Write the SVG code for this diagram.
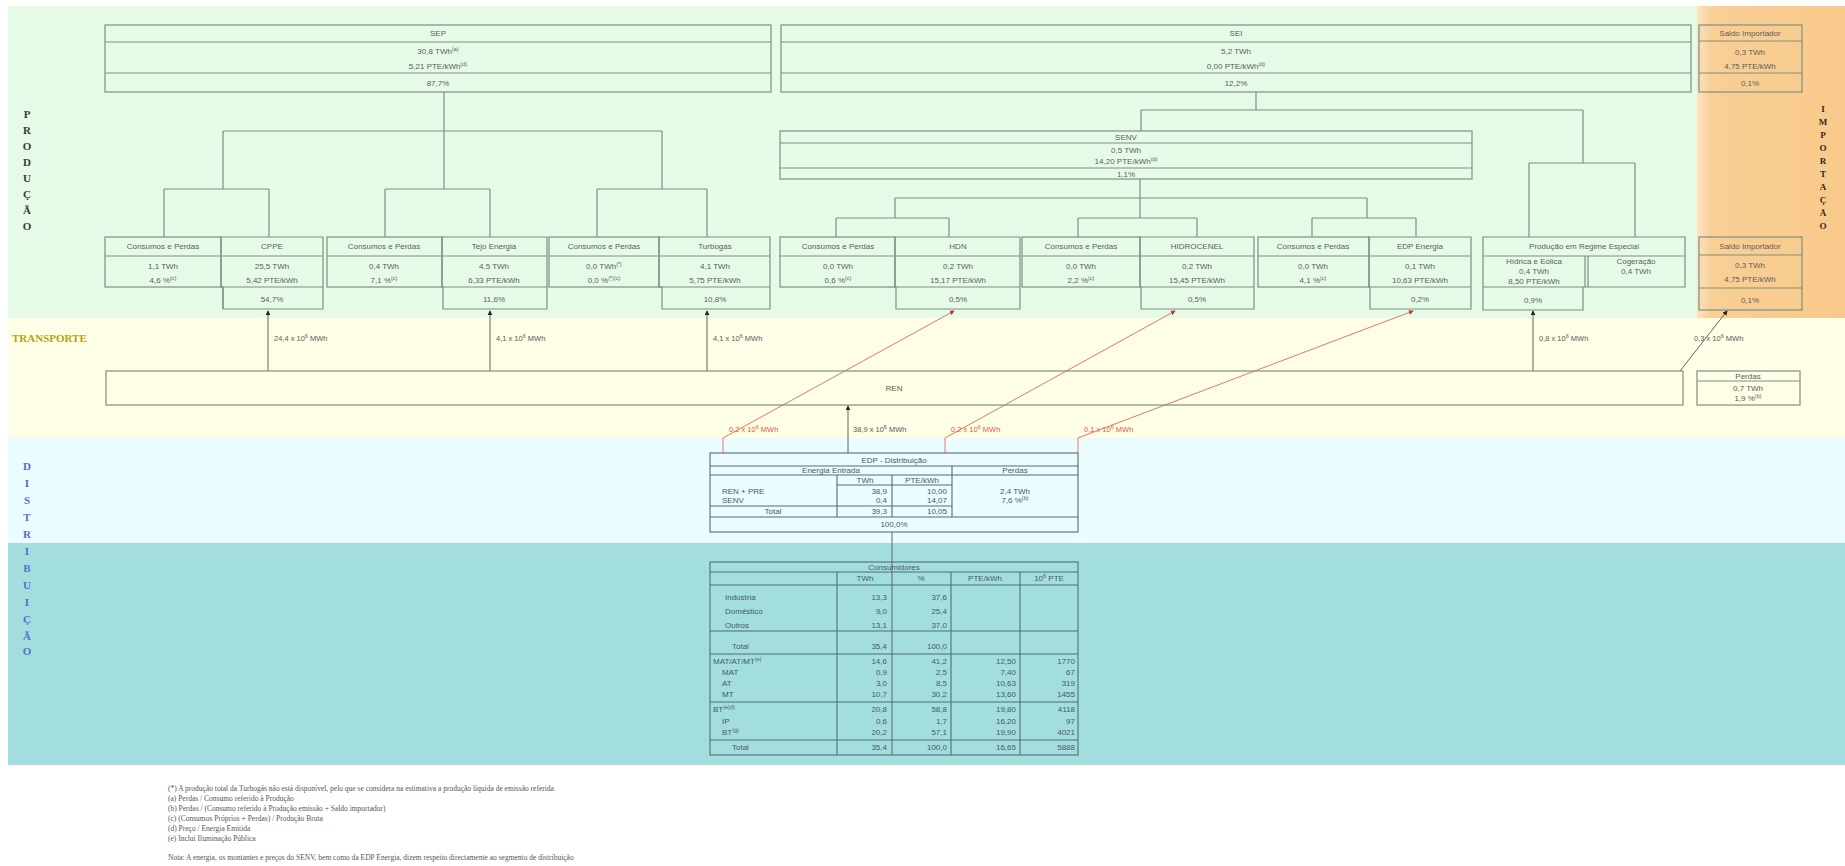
<svg xmlns="http://www.w3.org/2000/svg" width="1845" height="866" viewBox="0 0 1845 866">
<style>
.bx{fill:none;stroke:#7f8f80;stroke-width:1.2}
.ln{fill:none;stroke:#7f8f80;stroke-width:1.2}
.tb{fill:none;stroke:#4f6f6f;stroke-width:1.1}
.t{font-family:"Liberation Sans",Arial,sans-serif;font-size:8px;fill:#5c5c5c;text-anchor:middle}
.tl{font-family:"Liberation Sans",Arial,sans-serif;font-size:8px;fill:#4a5a5a;text-anchor:start}
.tr{font-family:"Liberation Sans",Arial,sans-serif;font-size:8px;fill:#4a5a5a;text-anchor:end}
.tc{font-family:"Liberation Sans",Arial,sans-serif;font-size:8px;fill:#4a5a5a;text-anchor:middle}
.lab{font-family:"Liberation Sans",Arial,sans-serif;font-size:7.5px;fill:#5c5c5c;text-anchor:start}
.red{font-family:"Liberation Sans",Arial,sans-serif;font-size:7.5px;fill:#e0604a;text-anchor:start}
.sup{font-size:5.5px}
.vp{font-family:"Liberation Serif","Times New Roman",serif;font-size:11px;font-weight:bold;fill:#3a3a3a;text-anchor:middle}
.vd{font-family:"Liberation Serif","Times New Roman",serif;font-size:11px;font-weight:bold;fill:#5a6ad8;text-anchor:middle}
.vi{font-family:"Liberation Serif","Times New Roman",serif;font-size:9px;font-weight:bold;fill:#2a2a2a;text-anchor:middle}
.ft{font-family:"Liberation Serif","Times New Roman",serif;font-size:7.5px;fill:#555}
</style>
<defs>
<marker id="ah" viewBox="0 0 6 6" refX="5" refY="3" markerWidth="5" markerHeight="5" orient="auto">
<path d="M0,0 L6,3 L0,6 z" fill="#222"/>
</marker>
<marker id="ahr" viewBox="0 0 6 6" refX="5" refY="3" markerWidth="5" markerHeight="5" orient="auto">
<path d="M0,0 L6,3 L0,6 z" fill="#c0392b"/>
</marker>
<linearGradient id="og" x1="0" x2="1" y1="0" y2="0">
<stop offset="0" stop-color="#fbe3bf"/>
<stop offset="0.1" stop-color="#f9cf96"/>
<stop offset="1" stop-color="#f8c98a"/>
</linearGradient>
</defs>
<rect width="1845" height="866" fill="#ffffff"/>
<g id="bands">
<rect x="8" y="6" width="1692" height="316" fill="#e5fbe8"/>
<rect x="1697" y="6" width="148" height="312" fill="url(#og)"/>
<rect x="8" y="318" width="1837" height="120" fill="#fefde6"/>
<rect x="8" y="438" width="1837" height="105" fill="#eafcfd"/>
<rect x="8" y="543" width="1837" height="222" fill="#a2dede"/>
</g>
<g id="side-labels">
<text class="vp"><tspan x="27" y="118">P</tspan><tspan x="27" y="134">R</tspan><tspan x="27" y="150">O</tspan><tspan x="27" y="166">D</tspan><tspan x="27" y="182">U</tspan><tspan x="27" y="198">Ç</tspan><tspan x="27" y="214">Ã</tspan><tspan x="27" y="230">O</tspan></text>
<text x="12" y="342" style="font-family:'Liberation Serif','Times New Roman',serif;font-size:11px;font-weight:bold;fill:#b5a214">TRANSPORTE</text>
<text class="vd"><tspan x="27" y="470">D</tspan><tspan x="27" y="487">I</tspan><tspan x="27" y="504">S</tspan><tspan x="27" y="521">T</tspan><tspan x="27" y="538">R</tspan><tspan x="27" y="555">I</tspan><tspan x="27" y="572">B</tspan><tspan x="27" y="589">U</tspan><tspan x="27" y="606">I</tspan><tspan x="27" y="623">Ç</tspan><tspan x="27" y="640">Ã</tspan><tspan x="27" y="655">O</tspan></text>
<text class="vi"><tspan x="1823" y="112">I</tspan><tspan x="1823" y="125">M</tspan><tspan x="1823" y="138">P</tspan><tspan x="1823" y="151">O</tspan><tspan x="1823" y="164">R</tspan><tspan x="1823" y="177">T</tspan><tspan x="1823" y="190">A</tspan><tspan x="1823" y="203">Ç</tspan><tspan x="1823" y="216">Ã</tspan><tspan x="1823" y="229">O</tspan></text>
</g>
<g id="connectors">
<path class="ln" d="M444,92 V131 M223,131 H662 M223,131 V189 M444,131 V189 M662,131 V189 M164,189 H269 M164,189 V237 M269,189 V237 M385,189 H490 M385,189 V237 M490,189 V237 M597,189 H707 M597,189 V237 M707,189 V237"/>
<path class="ln" d="M1256,92 V110 M1141,110 H1583 M1141,110 V131 M1583,110 V163 M1529,163 H1635 M1529,163 V237 M1635,163 V237"/>
<path class="ln" d="M1140,179 V198 M895,198 H1367 M895,198 V218 M1140,198 V218 M1367,198 V218 M836,218 H949 M836,218 V237 M949,218 V237 M1078,218 H1197 M1078,218 V237 M1197,218 V237 M1312,218 H1416 M1312,218 V237 M1416,218 V237"/>
<g stroke="#5c6b5c" stroke-width="1" fill="none">
<line x1="268" y1="371" x2="268" y2="311" marker-end="url(#ah)"/>
<line x1="490" y1="371" x2="490" y2="311" marker-end="url(#ah)"/>
<line x1="707" y1="371" x2="707" y2="311" marker-end="url(#ah)"/>
<line x1="1533" y1="371" x2="1533" y2="311" marker-end="url(#ah)"/>
<line x1="1680" y1="371" x2="1727" y2="311" marker-end="url(#ah)"/>
<line x1="848" y1="453" x2="848" y2="406" marker-end="url(#ah)"/>
<line x1="892" y1="532" x2="892" y2="755"/>
</g>
<g stroke="#e07a66" stroke-width="1" fill="none">
<polyline points="723,453 723,438 954,311" marker-end="url(#ahr)"/>
<polyline points="945,453 945,438 1175,311" marker-end="url(#ahr)"/>
<polyline points="1078,453 1078,438 1413,311" marker-end="url(#ahr)"/>
</g>
<text class="lab" x="274" y="341">24,4 x 10<tspan class="sup" dy="-3">6</tspan><tspan dy="3"> MWh</tspan></text>
<text class="lab" x="496" y="341">4,1 x 10<tspan class="sup" dy="-3">6</tspan><tspan dy="3"> MWh</tspan></text>
<text class="lab" x="713" y="341">4,1 x 10<tspan class="sup" dy="-3">6</tspan><tspan dy="3"> MWh</tspan></text>
<text class="lab" x="1539" y="341">0,8 x 10<tspan class="sup" dy="-3">6</tspan><tspan dy="3"> MWh</tspan></text>
<text class="lab" x="1694" y="341">0,3 x 10<tspan class="sup" dy="-3">6</tspan><tspan dy="3"> MWh</tspan></text>
<text class="red" x="729" y="432">0,2 x 10<tspan class="sup" dy="-3">6</tspan><tspan dy="3"> MWh</tspan></text>
<text class="lab" x="853" y="432">38,9 x 10<tspan class="sup" dy="-3">6</tspan><tspan dy="3"> MWh</tspan></text>
<text class="red" x="951" y="432">0,2 x 10<tspan class="sup" dy="-3">6</tspan><tspan dy="3"> MWh</tspan></text>
<text class="red" x="1084" y="432">0,1 x 10<tspan class="sup" dy="-3">6</tspan><tspan dy="3"> MWh</tspan></text>
</g>
<g id="SEP">
<rect class="bx" x="105" y="25" width="666" height="67"/>
<path class="ln" d="M105,42 H771 M105,73 H771"/>
<text class="t" x="438" y="36">SEP</text>
<text class="t" x="438" y="54">30,8 TWh<tspan class="sup" dy="-3">(a)</tspan></text>
<text class="t" x="438" y="69">5,21 PTE/kWh<tspan class="sup" dy="-3">(d)</tspan></text>
<text class="t" x="438" y="86">87,7%</text>
</g>
<g id="SEI">
<rect class="bx" x="781" y="25" width="910" height="67"/>
<path class="ln" d="M781,42 H1691 M781,73 H1691"/>
<text class="t" x="1236" y="36">SEI</text>
<text class="t" x="1236" y="54">5,2 TWh</text>
<text class="t" x="1236" y="69">0,00 PTE/kWh<tspan class="sup" dy="-3">(d)</tspan></text>
<text class="t" x="1236" y="86">12,2%</text>
</g>
<g id="saldo-top">
<rect class="bx" x="1699" y="25" width="103" height="67"/>
<path class="ln" d="M1699,41 H1802 M1699,73 H1802"/>
<text class="t" x="1750" y="36">Saldo Importador</text>
<text class="t" x="1750" y="55">0,3 TWh</text>
<text class="t" x="1750" y="69">4,75 PTE/kWh</text>
<text class="t" x="1750" y="86">0,1%</text>
</g>
<g id="SENV">
<rect class="bx" x="780" y="131" width="692" height="48"/>
<path class="ln" d="M780,143 H1472 M780,168 H1472"/>
<text class="t" x="1126" y="140">SENV</text>
<text class="t" x="1126" y="153">0,5 TWh</text>
<text class="t" x="1126" y="164">14,20 PTE/kWh<tspan class="sup" dy="-3">(d)</tspan></text>
<text class="t" x="1126" y="177">1,1%</text>
</g>
<g id="cp1">
<rect class="bx" x="105" y="237" width="116" height="50"/>
<path class="ln" d="M105,256 H221"/>
<text class="t" x="163" y="249">Consumos e Perdas</text>
<text class="t" x="163" y="269">1,1 TWh</text>
<text class="t" x="163" y="283">4,6 %<tspan class="sup" dy="-3">(c)</tspan></text>
</g>
<g id="CPPE">
<path class="bx" d="M221,237 H323 V309 H223 V287 H221 Z"/>
<path class="ln" d="M221,256 H323 M221,287 H323 M223,287 V309"/>
<text class="t" x="272" y="249">CPPE</text>
<text class="t" x="272" y="269">25,5 TWh</text>
<text class="t" x="272" y="283">5,42 PTE/kWh</text>
<text class="t" x="272" y="302">54,7%</text>
</g>
<g id="cp2">
<rect class="bx" x="327" y="237" width="115" height="50"/>
<path class="ln" d="M327,256 H442"/>
<text class="t" x="384" y="249">Consumos e Perdas</text>
<text class="t" x="384" y="269">0,4 TWh</text>
<text class="t" x="384" y="283">7,1 %<tspan class="sup" dy="-3">(c)</tspan></text>
</g>
<g id="Tejo">
<path class="bx" d="M442,237 H547 V309 H443 V287 H442 Z"/>
<path class="ln" d="M442,256 H547 M442,287 H547"/>
<text class="t" x="494" y="249">Tejo Energia</text>
<text class="t" x="494" y="269">4,5 TWh</text>
<text class="t" x="494" y="283">6,33 PTE/kWh</text>
<text class="t" x="494" y="302">11,6%</text>
</g>
<g id="cp3">
<rect class="bx" x="549" y="237" width="110" height="50"/>
<path class="ln" d="M549,256 H659"/>
<text class="t" x="604" y="249">Consumos e Perdas</text>
<text class="t" x="604" y="269">0,0 TWh<tspan class="sup" dy="-3">(*)</tspan></text>
<text class="t" x="604" y="283">0,0 %<tspan class="sup" dy="-3">(*)(c)</tspan></text>
</g>
<g id="Turbogas">
<path class="bx" d="M659,237 H770 V309 H662 V287 H659 Z"/>
<path class="ln" d="M659,256 H770 M659,287 H770"/>
<text class="t" x="715" y="249">Turbogás</text>
<text class="t" x="715" y="269">4,1 TWh</text>
<text class="t" x="715" y="283">5,75 PTE/kWh</text>
<text class="t" x="715" y="302">10,8%</text>
</g>
<g id="cp4">
<rect class="bx" x="780" y="237" width="115" height="50"/>
<path class="ln" d="M780,256 H895"/>
<text class="t" x="838" y="249">Consumos e Perdas</text>
<text class="t" x="838" y="269">0,0 TWh</text>
<text class="t" x="838" y="283">0,6 %<tspan class="sup" dy="-3">(c)</tspan></text>
</g>
<g id="HDN">
<path class="bx" d="M895,237 H1020 V309 H896 V287 H895 Z"/>
<path class="ln" d="M895,256 H1020 M895,287 H1020"/>
<text class="t" x="958" y="249">HDN</text>
<text class="t" x="958" y="269">0,2 TWh</text>
<text class="t" x="958" y="283">15,17 PTE/kWh</text>
<text class="t" x="958" y="302">0,5%</text>
</g>
<g id="cp5">
<rect class="bx" x="1022" y="237" width="118" height="50"/>
<path class="ln" d="M1022,256 H1140"/>
<text class="t" x="1081" y="249">Consumos e Perdas</text>
<text class="t" x="1081" y="269">0,0 TWh</text>
<text class="t" x="1081" y="283">2,2 %<tspan class="sup" dy="-3">(c)</tspan></text>
</g>
<g id="HIDROCENEL">
<path class="bx" d="M1140,237 H1254 V309 H1141 V287 H1140 Z"/>
<path class="ln" d="M1140,256 H1254 M1140,287 H1254"/>
<text class="t" x="1197" y="249">HIDROCENEL</text>
<text class="t" x="1197" y="269">0,2 TWh</text>
<text class="t" x="1197" y="283">15,45 PTE/kWh</text>
<text class="t" x="1197" y="302">0,5%</text>
</g>
<g id="cp6">
<rect class="bx" x="1258" y="237" width="111" height="50"/>
<path class="ln" d="M1258,256 H1369"/>
<text class="t" x="1313" y="249">Consumos e Perdas</text>
<text class="t" x="1313" y="269">0,0 TWh</text>
<text class="t" x="1313" y="283">4,1 %<tspan class="sup" dy="-3">(c)</tspan></text>
</g>
<g id="EDPEnergia">
<path class="bx" d="M1369,237 H1471 V309 H1370 V287 H1369 Z"/>
<path class="ln" d="M1369,256 H1471 M1369,287 H1471"/>
<text class="t" x="1420" y="249">EDP Energia</text>
<text class="t" x="1420" y="269">0,1 TWh</text>
<text class="t" x="1420" y="283">10,63 PTE/kWh</text>
<text class="t" x="1420" y="302">0,2%</text>
</g>
<g id="PRE">
<path class="bx" d="M1483,237 H1685 V287 H1583 V310 H1483 Z"/>
<path class="ln" d="M1483,256 H1685 M1583,287 H1483 M1585,256 V287 M1588,256 V287"/>
<text class="t" x="1584" y="249">Produção em Regime Especial</text>
<text class="t" x="1534" y="264">Hídrica e Eólica</text>
<text class="t" x="1534" y="274">0,4 TWh</text>
<text class="t" x="1534" y="284">8,50 PTE/kWh</text>
<text class="t" x="1636" y="264">Cogeração</text>
<text class="t" x="1636" y="274">0,4 TWh</text>
<text class="t" x="1533" y="303">0,9%</text>
</g>
<g id="saldo-bottom">
<rect class="bx" x="1699" y="237" width="103" height="73"/>
<path class="ln" d="M1699,255 H1802 M1699,288 H1802"/>
<text class="t" x="1750" y="249">Saldo Importador</text>
<text class="t" x="1750" y="268">0,3 TWh</text>
<text class="t" x="1750" y="282">4,75 PTE/kWh</text>
<text class="t" x="1750" y="303">0,1%</text>
</g>
<g id="REN">
<rect class="bx" x="106" y="371" width="1577" height="34"/>
<text class="t" x="894" y="391">REN</text>
</g>
<g id="REN-perdas">
<rect class="bx" x="1697" y="371" width="103" height="34"/>
<path class="ln" d="M1697,381 H1800"/>
<text class="t" x="1748" y="379">Perdas</text>
<text class="t" x="1748" y="391">0,7 TWh</text>
<text class="t" x="1748" y="401">1,9 %<tspan class="sup" dy="-3">(b)</tspan></text>
</g>
<g id="EDP-Distribuicao">
<rect class="tb" x="710" y="453" width="368" height="79" fill="#eafcfd"/>
<path class="tb" d="M710,466 H1078 M710,475 H1078 M837,485 H952 M710,506 H952 M710,517 H1078 M837,475 V517 M892,475 V517 M952,466 V517"/>
<text class="tc" x="894" y="463">EDP - Distribuição</text>
<text class="tc" x="831" y="473">Energia Entrada</text>
<text class="tc" x="1015" y="473">Perdas</text>
<text class="tc" x="865" y="483">TWh</text>
<text class="tc" x="922" y="483">PTE/kWh</text>
<text class="tl" x="722" y="494">REN + PRE</text>
<text class="tr" x="887" y="494">38,9</text>
<text class="tr" x="947" y="494">10,00</text>
<text class="tl" x="722" y="503">SENV</text>
<text class="tr" x="887" y="503">0,4</text>
<text class="tr" x="947" y="503">14,07</text>
<text class="tc" x="773" y="514">Total</text>
<text class="tr" x="887" y="514">39,3</text>
<text class="tr" x="947" y="514">10,05</text>
<text class="tc" x="1015" y="494">2,4 TWh</text>
<text class="tc" x="1015" y="503">7,6 %<tspan class="sup" dy="-3">(b)</tspan></text>
<text class="tc" x="894" y="527">100,0%</text>
</g>
<g id="Consumidores">
<rect class="tb" x="710" y="562" width="368" height="193"/>
<path class="tb" d="M710,572 H1078 M710,585 H1078 M710,631 H1078 M710,654 H1078 M710,702 H1078 M710,740 H1078 M837,572 V755 M951,572 V755 M1020,572 V755"/>
<text class="tc" x="894" y="570">Consumidores</text>
<text class="tc" x="865" y="581">TWh</text>
<text class="tc" x="921" y="581">%</text>
<text class="tc" x="985" y="581">PTE/kWh</text>
<text class="tc" x="1049" y="581">10<tspan class="sup" dy="-3">6</tspan><tspan dy="3"> PTE</tspan></text>
<text class="tl" x="725" y="600">Indústria</text><text class="tr" x="887" y="600">13,3</text><text class="tr" x="947" y="600">37,6</text>
<text class="tl" x="725" y="614">Doméstico</text><text class="tr" x="887" y="614">9,0</text><text class="tr" x="947" y="614">25,4</text>
<text class="tl" x="725" y="628">Outros</text><text class="tr" x="887" y="628">13,1</text><text class="tr" x="947" y="628">37,0</text>
<text class="tl" x="732" y="649">Total</text><text class="tr" x="887" y="649">35,4</text><text class="tr" x="947" y="649">100,0</text>
<text class="tl" x="713" y="664">MAT/AT/MT<tspan class="sup" dy="-3">(e)</tspan></text><text class="tr" x="887" y="664">14,6</text><text class="tr" x="947" y="664">41,2</text><text class="tr" x="1016" y="664">12,50</text><text class="tr" x="1075" y="664">1770</text>
<text class="tl" x="722" y="675">MAT</text><text class="tr" x="887" y="675">0,9</text><text class="tr" x="947" y="675">2,5</text><text class="tr" x="1016" y="675">7,40</text><text class="tr" x="1075" y="675">67</text>
<text class="tl" x="722" y="686">AT</text><text class="tr" x="887" y="686">3,0</text><text class="tr" x="947" y="686">8,5</text><text class="tr" x="1016" y="686">10,63</text><text class="tr" x="1075" y="686">319</text>
<text class="tl" x="722" y="697">MT</text><text class="tr" x="887" y="697">10,7</text><text class="tr" x="947" y="697">30,2</text><text class="tr" x="1016" y="697">13,60</text><text class="tr" x="1075" y="697">1455</text>
<text class="tl" x="713" y="712">BT<tspan class="sup" dy="-3">(e)(f)</tspan></text><text class="tr" x="887" y="712">20,8</text><text class="tr" x="947" y="712">58,8</text><text class="tr" x="1016" y="712">19,80</text><text class="tr" x="1075" y="712">4118</text>
<text class="tl" x="722" y="724">IP</text><text class="tr" x="887" y="724">0,6</text><text class="tr" x="947" y="724">1,7</text><text class="tr" x="1016" y="724">16,20</text><text class="tr" x="1075" y="724">97</text>
<text class="tl" x="722" y="735">BT<tspan class="sup" dy="-3">(g)</tspan></text><text class="tr" x="887" y="735">20,2</text><text class="tr" x="947" y="735">57,1</text><text class="tr" x="1016" y="735">19,90</text><text class="tr" x="1075" y="735">4021</text>
<text class="tl" x="732" y="750">Total</text><text class="tr" x="887" y="750">35,4</text><text class="tr" x="947" y="750">100,0</text><text class="tr" x="1016" y="750">16,65</text><text class="tr" x="1075" y="750">5888</text>
</g>
<g id="footnotes">
<text class="ft" x="168" y="791">(*) A produção total da Turbogás não está disponível, pelo que se considera na estimativa a produção líquida de emissão referida.</text>
<text class="ft" x="168" y="801">(a) Perdas / Consumo referido à Produção</text>
<text class="ft" x="168" y="811">(b) Perdas / (Consumo referido à Produção emissão + Saldo importador)</text>
<text class="ft" x="168" y="821">(c) (Consumos Próprios + Perdas) / Produção Bruta</text>
<text class="ft" x="168" y="831">(d) Preço / Energia Emitida</text>
<text class="ft" x="168" y="841">(e) Inclui Iluminação Pública</text>
<text class="ft" x="168" y="860">Nota: A energia, os montantes e preços do SENV, bem como da EDP Energia, dizem respeito directamente ao segmento de distribuição</text>
</g>
</svg>
